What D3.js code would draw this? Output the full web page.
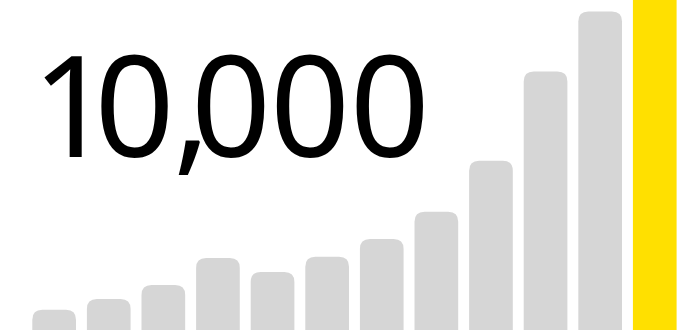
<!DOCTYPE html>
<html>
<head>
<meta charset="utf-8">
<script src="https://cdn.jsdelivr.net/npm/d3@7"></script>
<style>
  html, body { margin: 0; padding: 0; background: #fff; }
  svg { display: block; }
</style>
</head>
<body>
<div class="chart-wrapper"></div>
<script>
// bar values, oldest to newest; the last one is the highlighted one
const periods = ["p1", "p2", "p3", "p4", "p5", "p6", "p7", "p8", "p9", "p10", "p11", "p12"];
const counts = [610, 940, 1360, 2180, 1760, 2220, 2760, 3580, 5130, 7830, 9650, 10000];
const headline = "10,000";

const width = 692, height = 330;
const radius = 10;
const fontSize = 140;
const font = `${fontSize}px 'Noto Sans'`;
// left ink edge of each glyph of the headline
const glyphLefts = [44, 100.6, 178, 197, 276, 355.7];

const svg = d3.select(".chart-wrapper")
    .append("svg")
    .attr("width", width)
    .attr("height", height);

const x = d3.scaleBand()
    .domain(periods)
    .range([32.3, 676.6])
    .paddingInner(0.2)
    .paddingOuter(0);

const y = d3.scaleLinear()
    .domain([0, 10000])
    .range([height, 0]);

// rounded top, flat bottom that runs off the page
function barPath(d, i) {
    const x0 = x(periods[i]), w = x.bandwidth();
    const top = y(d), bottom = height + 2;
    if (i === counts.length - 1) {
        return `M${x0},${bottom}V${top}H${x0 + w}V${bottom}Z`;
    }
    const r = radius;
    return `M${x0},${bottom}V${top + r}Q${x0},${top} ${x0 + r},${top}` +
        `H${x0 + w - r}Q${x0 + w},${top} ${x0 + w},${top + r}V${bottom}Z`;
}

svg.selectAll("path.bar")
    .data(counts)
    .enter()
    .append("path")
    .attr("class", "bar")
    .attr("d", (d, i) => barPath(d, i))
    .attr("fill", (d, i) => i === counts.length - 1 ? "#ffe000" : "#d6d6d6");

// big number, each glyph placed by its ink edge
const ctx = document.createElement("canvas").getContext("2d");
ctx.font = font;
const xs = headline.split("").map((ch, i) => {
    const m = ctx.measureText(ch);
    return glyphLefts[i] + m.actualBoundingBoxLeft;
});

svg.append("text")
    .attr("x", xs.join(" "))
    .attr("y", 157)
    .attr("font-family", "'Noto Sans', sans-serif")
    .attr("font-size", fontSize)
    .attr("fill", "#000")
    .text(headline);
</script>
</body>
</html>
